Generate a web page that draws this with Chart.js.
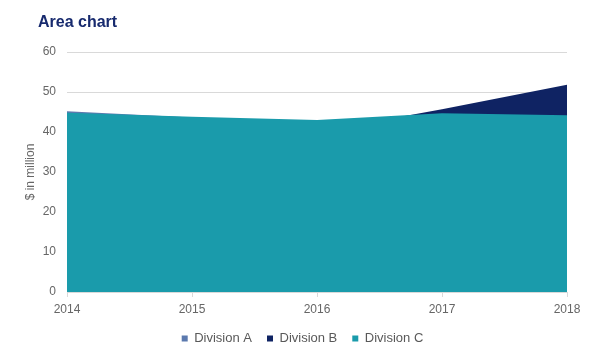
<!DOCTYPE html>
<html>
<head>
<meta charset="utf-8">
<script src="https://cdn.jsdelivr.net/npm/chart.js@4"></script>
<style>
html,body{margin:0;padding:0;background:#fff;}
#wrap{width:600px;height:360px;position:relative;}
</style>
</head>
<body>
<div id="wrap"><canvas id="c" width="600" height="360"></canvas></div>
<script>
const years = ['2014', '2015', '2016', '2017', '2018'];
const divisionA = [45.2, 43.6, 42.6, 43.5, 43.0];
const divisionB = [39, 40, 40, 45.7, 51.8];
const divisionC = [44.8, 43.8, 43.0, 44.7, 44.2];
const yTicks = [0, 10, 20, 30, 40, 50, 60];
const chartTitle = 'Area chart';

const FONT = "'Liberation Sans', Arial, sans-serif";

const titlePlugin = {
  id: 'leftTitle',
  afterLayout(chart) {
    if (chart.legend) { chart.legend.left += 14; chart.legend.right += 14; }
  },
  afterDraw(chart) {
    const ctx = chart.ctx;
    ctx.save();
    ctx.font = "bold 16px " + FONT;
    ctx.fillStyle = '#172a6e';
    ctx.textAlign = 'left';
    ctx.textBaseline = 'middle';
    ctx.fillText(chartTitle, 38, 23);
    ctx.restore();
  }
};

new Chart(document.getElementById('c'), {
  type: 'line',
  data: {
    labels: years,
    datasets: [
      { label: 'Division A', data: divisionA, backgroundColor: '#5b79ae', borderColor: '#5b79ae', borderWidth: 0, fill: 'origin', pointRadius: 0, order: 2 },
      { label: 'Division B', data: divisionB, backgroundColor: '#0f2363', borderColor: '#0f2363', borderWidth: 0, fill: 'origin', pointRadius: 0, order: 1 },
      { label: 'Division C', data: divisionC, backgroundColor: '#1a9bab', borderColor: '#1a9bab', borderWidth: 0, fill: 'origin', pointRadius: 0, order: 0 }
    ]
  },
  plugins: [titlePlugin],
  options: {
    responsive: false,
    animation: false,
    layout: { padding: { left: 10, right: 33, top: 52, bottom: 5 } },
    plugins: {
      title: { display: false },
      legend: {
        position: 'bottom',
        labels: {
          usePointStyle: true, pointStyle: 'rect', boxWidth: 6, boxHeight: 6,
          color: '#595959', font: { family: FONT, size: 13 }, padding: 15,
          sort: (a, b) => a.datasetIndex - b.datasetIndex
        }
      },
      tooltip: { enabled: false }
    },
    scales: {
      x: {
        offset: false,
        grid: { display: true, drawOnChartArea: false, drawTicks: true, tickLength: 5, color: '#d9d9d9' },
        border: { display: true, color: '#d9d9d9' },
        ticks: { color: '#666666', font: { family: FONT, size: 12 }, padding: 5, maxRotation: 0 },
        afterFit: s => { s.height = 25; }
      },
      y: {
        min: 0, max: 60,
        afterBuildTicks: s => { s.ticks = yTicks.map(v => ({ value: v })); },
        grid: { color: '#d9d9d9', drawTicks: false },
        border: { display: false },
        ticks: { color: '#666666', font: { family: FONT, size: 12 }, padding: 11 },
        title: { display: true, text: '$ in million', color: '#666666', font: { family: FONT, size: 12 }, padding: { top: 13, bottom: 0 } },
        afterFit: s => { s.width = 57; }
      }
    }
  }
});
</script>
</body>
</html>
